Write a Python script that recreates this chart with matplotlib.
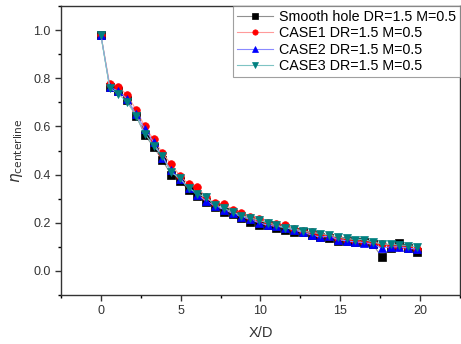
import matplotlib
matplotlib.use("Agg")
import matplotlib.pyplot as plt
from matplotlib.ticker import MultipleLocator

plt.rcParams['font.family'] = ['Liberation Sans', 'DejaVu Sans']

x_d = [0, 0.55, 1.1, 1.65, 2.2, 2.75, 3.3, 3.85, 4.4, 4.95, 5.5, 6.05, 6.6, 7.15, 7.7,
       8.25, 8.8, 9.35, 9.9, 10.45, 11.0, 11.55, 12.1, 12.65, 13.2, 13.75, 14.3, 14.85,
       15.4, 15.95, 16.5, 17.05, 17.6, 18.15, 18.7, 19.25, 19.8]

smooth = [0.98, 0.765, 0.745, 0.71, 0.645, 0.565, 0.515, 0.46, 0.40, 0.375, 0.335, 0.31,
          0.285, 0.265, 0.245, 0.235, 0.22, 0.205, 0.19, 0.19, 0.18, 0.17, 0.16, 0.16,
          0.15, 0.14, 0.135, 0.125, 0.125, 0.12, 0.12, 0.11, 0.057, 0.095, 0.116, 0.095, 0.078]
case1 = [0.98, 0.775, 0.765, 0.73, 0.67, 0.60, 0.546, 0.49, 0.443, 0.395, 0.36, 0.348,
         0.305, 0.28, 0.278, 0.255, 0.24, 0.225, 0.215, 0.20, 0.195, 0.19, 0.175, 0.165,
         0.16, 0.15, 0.145, 0.135, 0.13, 0.125, 0.12, 0.115, 0.11, 0.105, 0.10, 0.098, 0.092]
case2 = [0.98, 0.765, 0.745, 0.715, 0.65, 0.59, 0.535, 0.47, 0.42, 0.38, 0.345, 0.315,
         0.29, 0.27, 0.255, 0.24, 0.225, 0.215, 0.20, 0.19, 0.185, 0.18, 0.17, 0.16,
         0.15, 0.14, 0.145, 0.13, 0.125, 0.12, 0.118, 0.11, 0.095, 0.10, 0.10, 0.095, 0.09]
case3 = [0.98, 0.76, 0.735, 0.70, 0.645, 0.57, 0.52, 0.477, 0.41, 0.384, 0.345, 0.32,
         0.306, 0.275, 0.26, 0.245, 0.23, 0.22, 0.21, 0.20, 0.19, 0.18, 0.175, 0.165,
         0.16, 0.155, 0.15, 0.14, 0.135, 0.13, 0.13, 0.12, 0.112, 0.11, 0.108, 0.105, 0.10]

labels = ["Smooth hole DR=1.5 M=0.5", "CASE1 DR=1.5 M=0.5",
          "CASE2 DR=1.5 M=0.5", "CASE3 DR=1.5 M=0.5"]
series = [smooth, case1, case2, case3]
colors = ["#000000", "#ff0000", "#0000ff", "#008080"]
line_colors = ["#909090", "#ff9a9a", "#8a8aff", "#7fc4c4"]
markers = ["s", "o", "^", "v"]

fig = plt.figure(figsize=(4.61, 3.44), dpi=100)
ax = fig.add_axes([0.1323, 0.1424, 0.8655, 0.8402])

for y, c, lc, m, lab in zip(series, colors, line_colors, markers, labels):
    ax.plot(x_d, y, color=lc, lw=0.8, marker=m, markersize=5.5,
            markerfacecolor=c, markeredgecolor=c, markeredgewidth=0.5, label=lab)

ax.set_xlim(-2.5, 22.5)
ax.set_ylim(-0.1, 1.1)
ax.xaxis.set_major_locator(MultipleLocator(5))
ax.xaxis.set_minor_locator(MultipleLocator(2.5))
ax.yaxis.set_major_locator(MultipleLocator(0.2))
ax.yaxis.set_minor_locator(MultipleLocator(0.1))
ax.tick_params(which='major', direction='out', length=4, width=1, labelsize=9, colors='#333333')
ax.tick_params(which='minor', direction='out', length=2.5, width=1)
ax.tick_params(top=False, right=False)
for s in ax.spines.values():
    s.set_linewidth(1.0)
    s.set_color('#333333')

ax.set_xlabel("X/D", fontsize=10.5, labelpad=6, color='#333333')
ax.set_ylabel(r"$\eta_{\mathrm{centerline}}$", fontsize=11, color='#333333', labelpad=6)

leg = ax.legend(loc='upper right', fontsize=10.25, frameon=True, fancybox=False,
                edgecolor='#888888', borderpad=0.3, labelspacing=0.15,
                handlelength=2.5, handletextpad=0.4, borderaxespad=0.0,
                markerscale=0.7)
leg.get_frame().set_linewidth(0.8)

fig.savefig("out.png", dpi=100)
